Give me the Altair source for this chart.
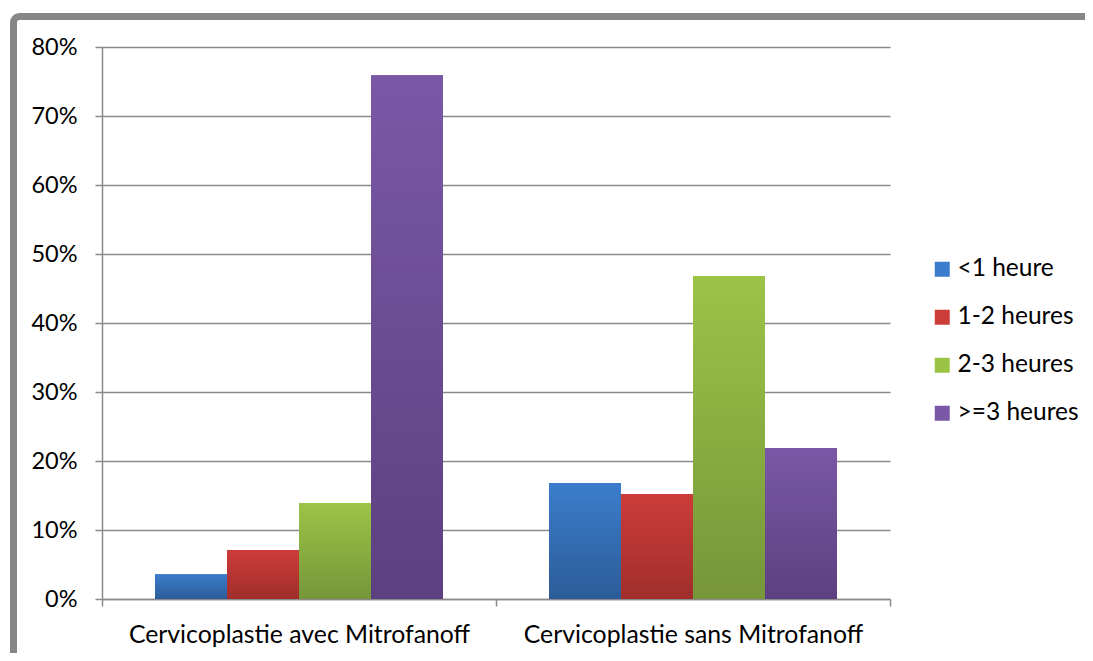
import altair as alt
import pandas as pd

categories = ["Cervicoplastie avec Mitrofanoff", "Cervicoplastie sans Mitrofanoff"]
series = ["<1 heure", "1-2 heures", "2-3 heures", ">=3 heures"]
avec = [0.036, 0.071, 0.139, 0.759]
sans = [0.168, 0.152, 0.468, 0.219]
top_colors = ["#3b7dcc", "#cc3c39", "#9bc447", "#7b58a6"]
bottom_colors = ["#2c5c98", "#a02e2b", "#76963a", "#5c4080"]
y_ticks = [0, 0.1, 0.2, 0.3, 0.4, 0.5, 0.6, 0.7, 0.8]

rows = []
for cat, vals in zip(categories, [avec, sans]):
    for s, v in zip(series, vals):
        rows.append({"groupe": cat, "duree": s, "part": v})
df = pd.DataFrame(rows)

GRAY = "#8a8a8a"

x_enc = alt.X(
    "groupe:N",
    sort=categories,
    scale=alt.Scale(domain=categories, paddingInner=0, paddingOuter=0),
    axis=alt.Axis(
        title=None, labelAngle=0, tickBand="extent", tickSize=7,
        labelFontSize=24.8, labelPadding=16, labelLimit=0, grid=False,
    ),
)
xo_enc = alt.XOffset(
    "duree:N",
    sort=series,
    scale=alt.Scale(domain=series, paddingInner=0, paddingOuter=0.736),
)
y_enc = alt.Y(
    "part:Q",
    scale=alt.Scale(domain=[0, 0.8], nice=False),
    axis=alt.Axis(
        title=None, format=".0%", values=y_ticks, tickSize=7,
        labelFontSize=23.5, labelPadding=18, grid=True,
    ),
)

frame = alt.Chart(pd.DataFrame({"k": [0]})).mark_rect(
    fillOpacity=0, stroke="#878787", strokeWidth=7, cornerRadius=6
).encode(
    x=alt.value(-88.5), x2=alt.value(1100), y=alt.value(-30.5), y2=alt.value(700)
)

base = alt.Chart(df).mark_bar().encode(
    x=x_enc,
    xOffset=xo_enc,
    y=y_enc,
    color=alt.Color(
        "duree:N",
        sort=series,
        scale=alt.Scale(domain=series, range=top_colors),
        legend=alt.Legend(
            title=None, orient="none", legendX=828, legendY=210,
            symbolType="square", symbolSize=225, symbolStrokeWidth=0,
            labelFontSize=24.5, labelOffset=3, rowPadding=23, padding=0,
            labelFont="Lato", labelColor="black", labelLimit=0,
        ),
    ),
)

layers = [frame, base]
for s, c_top, c_bot in zip(series, top_colors, bottom_colors):
    grad = alt.Gradient(
        gradient="linear", x1=0, y1=0, x2=0, y2=1,
        stops=[alt.GradientStop(offset=0, color=c_top),
               alt.GradientStop(offset=1, color=c_bot)],
    )
    layers.append(
        alt.Chart(df)
        .transform_filter(alt.datum.duree == s)
        .mark_bar(color=grad)
        .encode(x=x_enc, xOffset=xo_enc, y=y_enc)
    )

chart = alt.layer(*layers).properties(
    width=788,
    height=552,
    padding={"left": 94, "top": 39, "right": 195, "bottom": 54},
    autosize=alt.AutoSizeParams(type="none"),
).configure_view(stroke="transparent").configure_axis(
    domainColor=GRAY, domainWidth=1.5, tickColor=GRAY, tickWidth=1.5,
    gridColor=GRAY, gridWidth=1.5, labelFont="Lato", labelColor="black",
)

chart.save("out.html", embed_options={"renderer": "svg", "actions": False})
